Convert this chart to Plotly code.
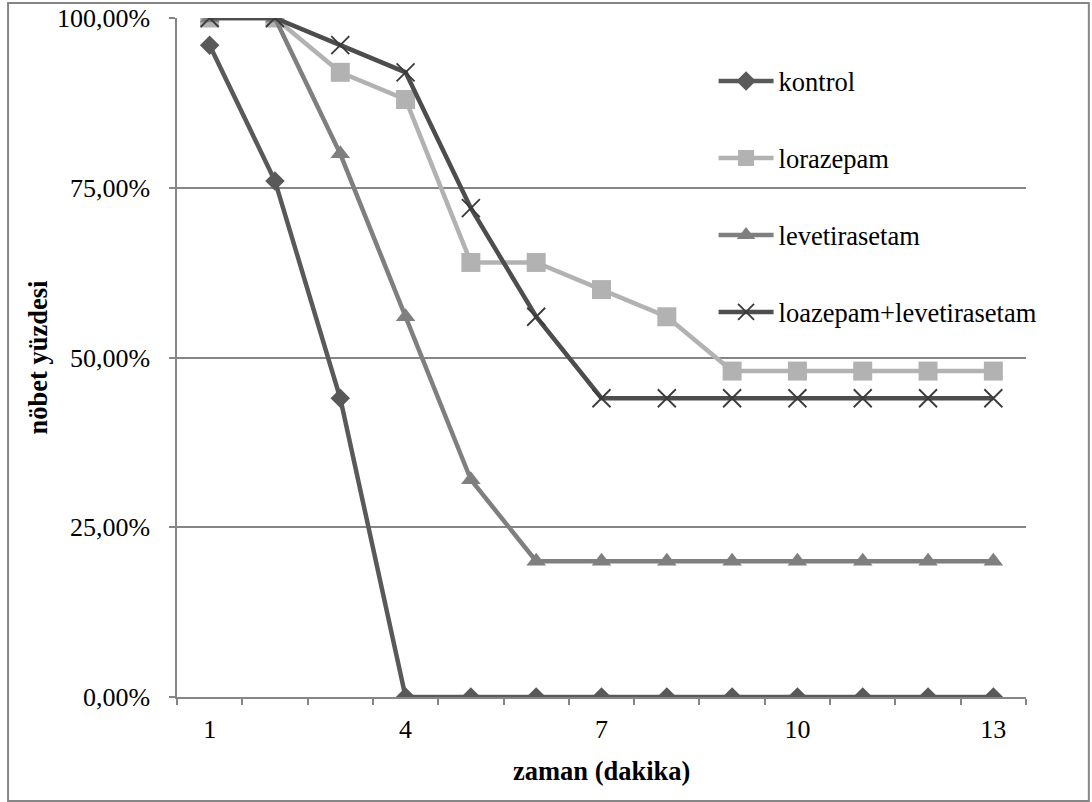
import plotly.graph_objects as go

minutes = list(range(1, 14))
kontrol = [96, 76, 44, 0, 0, 0, 0, 0, 0, 0, 0, 0, 0]
lorazepam = [100, 100, 92, 88, 64, 64, 60, 56, 48, 48, 48, 48, 48]
levetirasetam = [100, 100, 80, 56, 32, 20, 20, 20, 20, 20, 20, 20, 20]
kombinasyon = [100, 100, 96, 92, 72, 56, 44, 44, 44, 44, 44, 44, 44]

series_names = ["kontrol", "lorazepam", "levetirasetam", "loazepam+levetirasetam"]
x_tick_vals = [1, 4, 7, 10, 13]
y_tick_vals = [0, 25, 50, 75, 100]
y_tick_text = ["0,00%", "25,00%", "50,00%", "75,00%", "100,00%"]

FONT = "Liberation Serif"
GRID = "#868686"

styles = [
    dict(color="#595959", symbol="diamond", size=15, lw=4.5),
    dict(color="#b2b2b2", symbol="square", size=19, lw=4.5),
    dict(color="#7f7f7f", symbol="triangle-up", size=17, lw=4.5),
    dict(color="#4d4d4d", symbol="x-thin", size=18, lw=4.5),
]
data = [kontrol, lorazepam, levetirasetam, kombinasyon]

fig = go.Figure()
for i, (name, vals, st) in enumerate(zip(series_names, data, styles)):
    marker = dict(symbol=st["symbol"], size=st["size"], color=st["color"])
    if st["symbol"] == "x-thin":
        marker["line"] = dict(color="#3a3a3a", width=1.8)
    fig.add_trace(go.Scatter(
        x=minutes, y=vals, name=name, mode="lines+markers",
        line=dict(color=st["color"], width=st["lw"]),
        marker=marker, legendgroup=f"g{i}",
    ))

fig.update_layout(
    width=1092, height=802,
    margin=dict(l=177, r=66, t=18, b=105, autoexpand=False),
    paper_bgcolor="white", plot_bgcolor="white",
    font=dict(family=FONT, size=26, color="black"),
    showlegend=True,
    legend=dict(
        x=0.632, y=0.942, xanchor="left", yanchor="top",
        bgcolor="rgba(0,0,0,0)", tracegroupgap=39.5,
        font=dict(family=FONT, size=26.5, color="black"),
        itemwidth=55,
    ),
    xaxis=dict(
        range=[0.5, 13.5], tickmode="array", tickvals=x_tick_vals,
        ticktext=[str(v) for v in x_tick_vals],
        ticks="outside", ticklen=6, tickcolor="rgba(0,0,0,0)",
        ticklabelstandoff=2, automargin=False,
        showgrid=False, zeroline=False,
        showline=True, linecolor=GRID, linewidth=1.5,
        minor=dict(tickmode="array", tickvals=[v + 0.5 for v in range(0, 14)],
                   ticks="outside", ticklen=6, tickcolor=GRID, tickwidth=1.5,
                   showgrid=False),
        tickfont=dict(family=FONT, size=26, color="black"),
    ),
    yaxis=dict(
        range=[0, 100], tickmode="array", tickvals=y_tick_vals, ticktext=y_tick_text,
        ticks="outside", ticklen=6, tickcolor=GRID, tickwidth=1.5,
        ticklabelstandoff=14, automargin=False,
        showgrid=True, gridcolor=GRID, gridwidth=1.5, zeroline=False,
        showline=True, linecolor=GRID, linewidth=1.5,
        tickfont=dict(family=FONT, size=26, color="black"),
    ),
    shapes=[dict(type="rect", xref="paper", yref="paper",
                 x0=-0.199, x1=1.074, y0=-0.153, y1=1.022,
                 line=dict(color=GRID, width=2), fillcolor="rgba(0,0,0,0)", layer="below")],
    annotations=[
        dict(text="<b>zaman (dakika)</b>", xref="paper", yref="paper",
             x=0.5, y=(697 - 771) / 679, xanchor="center", yanchor="middle",
             showarrow=False, font=dict(family=FONT, size=26.5, color="black")),
        dict(text="<b>nöbet yüzdesi</b>", xref="paper", yref="paper",
             x=(37 - 177) / 849, y=0.5, xanchor="center", yanchor="middle",
             textangle=-90, showarrow=False,
             font=dict(family=FONT, size=26.5, color="black")),
    ],
)

fig.write_html("out.html")
